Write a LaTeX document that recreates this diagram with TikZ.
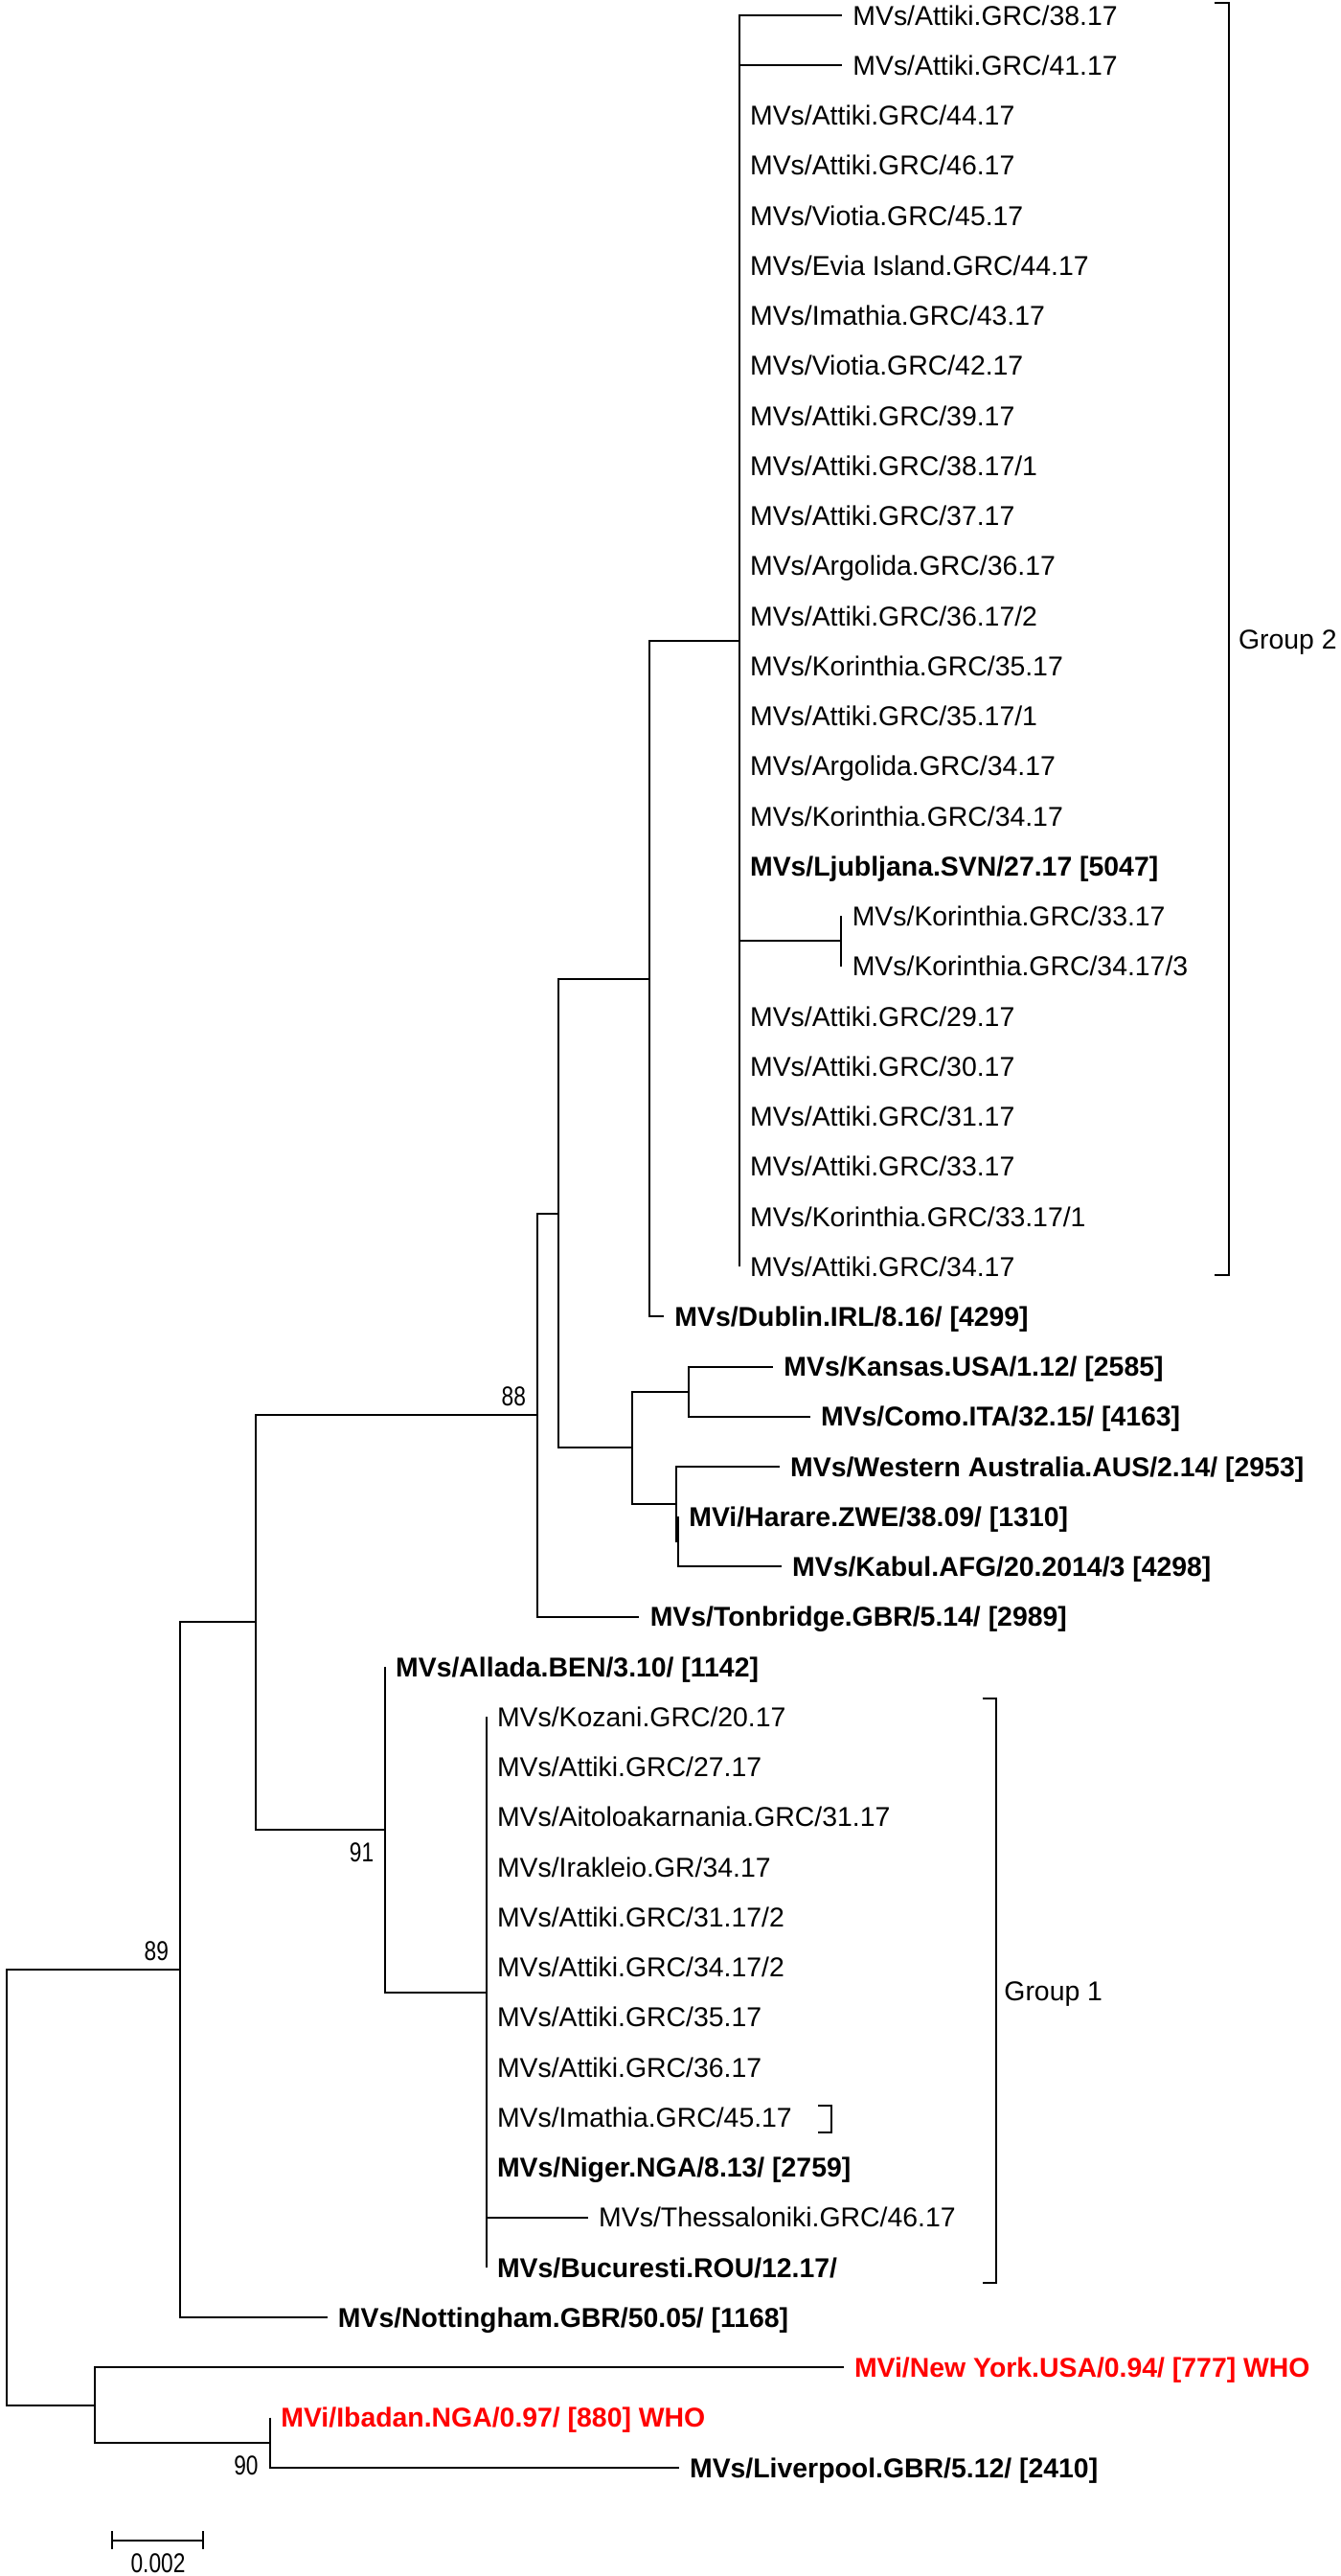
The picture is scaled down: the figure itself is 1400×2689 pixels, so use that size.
\documentclass[tikz,border=0pt]{standalone}
\usepackage{fontspec}
\setmainfont{Liberation Sans}
\usepackage{graphicx}
\usepackage{tikz}
\usetikzlibrary{positioning}
\definecolor{whored}{RGB}{255,0,0}
\newcommand{\treefont}{\fontsize{14.2pt}{17pt}\selectfont}
\newcommand{\narrow}[1]{\scalebox{0.8}[1]{#1}}
\tikzset{
    branch/.style={line width=1pt},
    taxon/.style={anchor=west, inner xsep=5.5pt, inner ysep=0pt, text height=10.2pt, text depth=0pt, font=\treefont},
    strain/.style={taxon, font=\treefont\bfseries},
    refstrain/.style={strain, text=whored},
    boot/.style={inner sep=0pt, text height=10.2pt, text depth=0pt, font=\treefont},
    grouplabel/.style={anchor=west, inner sep=0pt, text height=10.2pt, text depth=0pt, font=\treefont}
}
\begin{document}
\begin{tikzpicture}[x=0.5pt, y=-0.5pt]
    \useasboundingbox[fill=white] (0,0) rectangle (1400,2689);

    % taxa (west anchor = tip of the branch)
    \node[taxon] (t1) at (879,16.0) {MVs/Attiki.GRC/38.17};
    \node[taxon] (t2) at (879,68.2) {MVs/Attiki.GRC/41.17};
    \node[taxon] (t3) at (771.7,120.5) {MVs/Attiki.GRC/44.17};
    \node[taxon] (t4) at (771.7,172.7) {MVs/Attiki.GRC/46.17};
    \node[taxon] (t5) at (771.7,225.0) {MVs/Viotia.GRC/45.17};
    \node[taxon] (t6) at (771.7,277.2) {MVs/Evia Island.GRC/44.17};
    \node[taxon] (t7) at (771.7,329.4) {MVs/Imathia.GRC/43.17};
    \node[taxon] (t8) at (771.7,381.7) {MVs/Viotia.GRC/42.17};
    \node[taxon] (t9) at (771.7,433.9) {MVs/Attiki.GRC/39.17};
    \node[taxon] (t10) at (771.7,486.2) {MVs/Attiki.GRC/38.17/1};
    \node[taxon] (t11) at (771.7,538.4) {MVs/Attiki.GRC/37.17};
    \node[taxon] (t12) at (771.7,590.6) {MVs/Argolida.GRC/36.17};
    \node[taxon] (t13) at (771.7,642.9) {MVs/Attiki.GRC/36.17/2};
    \node[taxon] (t14) at (771.7,695.1) {MVs/Korinthia.GRC/35.17};
    \node[taxon] (t15) at (771.7,747.4) {MVs/Attiki.GRC/35.17/1};
    \node[taxon] (t16) at (771.7,799.6) {MVs/Argolida.GRC/34.17};
    \node[taxon] (t17) at (771.7,851.8) {MVs/Korinthia.GRC/34.17};
    \node[strain] (t18) at (771.7,904.1) {MVs/Ljubljana.SVN/27.17 [5047]};
    \node[taxon] (t19) at (878.4,956.3) {MVs/Korinthia.GRC/33.17};
    \node[taxon] (t20) at (878.4,1008.6) {MVs/Korinthia.GRC/34.17/3};
    \node[taxon] (t21) at (771.7,1060.8) {MVs/Attiki.GRC/29.17};
    \node[taxon] (t22) at (771.7,1113.0) {MVs/Attiki.GRC/30.17};
    \node[taxon] (t23) at (771.7,1165.3) {MVs/Attiki.GRC/31.17};
    \node[taxon] (t24) at (771.7,1217.5) {MVs/Attiki.GRC/33.17};
    \node[taxon] (t25) at (771.7,1269.8) {MVs/Korinthia.GRC/33.17/1};
    \node[taxon] (t26) at (771.7,1322.0) {MVs/Attiki.GRC/34.17};
    \node[strain] (t27) at (693,1374.2) {MVs/Dublin.IRL/8.16/ [4299]};
    \node[strain] (t28) at (807,1426.5) {MVs/Kansas.USA/1.12/ [2585]};
    \node[strain] (t29) at (845.7,1478.7) {MVs/Como.ITA/32.15/ [4163]};
    \node[strain] (t30) at (813.8,1531.0) {MVs/Western Australia.AUS/2.14/ [2953]};
    \node[strain] (t31) at (708,1583.2) {MVi/Harare.ZWE/38.09/ [1310]};
    \node[strain] (t32) at (815.8,1635.4) {MVs/Kabul.AFG/20.2014/3 [4298]};
    \node[strain] (t33) at (667.4,1687.7) {MVs/Tonbridge.GBR/5.14/ [2989]};
    \node[strain] (t34) at (401.8,1739.9) {MVs/Allada.BEN/3.10/ [1142]};
    \node[taxon] (t35) at (507.6,1792.2) {MVs/Kozani.GRC/20.17};
    \node[taxon] (t36) at (507.6,1844.4) {MVs/Attiki.GRC/27.17};
    \node[taxon] (t37) at (507.6,1896.6) {MVs/Aitoloakarnania.GRC/31.17};
    \node[taxon] (t38) at (507.6,1948.9) {MVs/Irakleio.GR/34.17};
    \node[taxon] (t39) at (507.6,2001.1) {MVs/Attiki.GRC/31.17/2};
    \node[taxon] (t40) at (507.6,2053.4) {MVs/Attiki.GRC/34.17/2};
    \node[taxon] (t41) at (507.6,2105.6) {MVs/Attiki.GRC/35.17};
    \node[taxon] (t42) at (507.6,2157.8) {MVs/Attiki.GRC/36.17};
    \node[taxon] (t43) at (507.6,2210.1) {MVs/Imathia.GRC/45.17};
    \node[strain] (t44) at (507.6,2262.3) {MVs/Niger.NGA/8.13/ [2759]};
    \node[taxon] (t45) at (613.8,2314.6) {MVs/Thessaloniki.GRC/46.17};
    \node[strain] (t46) at (507.6,2366.8) {MVs/Bucuresti.ROU/12.17/};
    \node[strain] (t47) at (341.5,2419.0) {MVs/Nottingham.GBR/50.05/ [1168]};
    \node[refstrain] (t48) at (880.6,2471.3) {MVi/New York.USA/0.94/ [777] WHO};
    \node[refstrain] (t49) at (282,2523.5) {MVi/Ibadan.NGA/0.97/ [880] WHO};
    \node[strain] (t50) at (708.7,2575.8) {MVs/Liverpool.GBR/5.12/ [2410]};

    % internal nodes
    \coordinate (g2) at (771.7,669.0);
    \coordinate (kor) at (878.4,982.45);
    \coordinate (cl) at (678,1021.6);
    \coordinate (ea) at (719.2,1452.6);
    \coordinate (hz) at (708,1609.3);
    \coordinate (fw) at (706,1570.2);
    \coordinate (dn) at (660.4,1511.4);
    \coordinate (bn) at (582.5,1266.5);
    \coordinate (n88) at (560.5,1477.1);
    \coordinate (g1) at (507.6,2079.5);
    \coordinate (n91) at (401.8,1909.7);
    \coordinate (pn) at (266.5,1693.4);
    \coordinate (n89) at (187.5,2056.2);
    \coordinate (n90) at (282,2549.7);
    \coordinate (qn) at (98.5,2510.5);
    \coordinate (root) at (6.7,2283.4);

    % branches
    \draw[branch] (t1.west) -| (g2) |- (t26.west);
    \draw[branch] (g2 |- t2.west) -- (t2.west);
    \draw[branch] (t19.west) -- (t20.west);
    \draw[branch] (g2 |- kor) -- (kor);
    \draw[branch] (g2) -| (cl) |- (t27.west);
    \draw[branch] (t28.west) -| (ea) |- (t29.west);
    \draw[branch] (t31.west) -| (hz) |- (t32.west);
    \draw[branch] (t30.west) -| (fw) |- (hz);
    \draw[branch] (ea) -| (dn) |- (fw);
    \draw[branch] (cl) -| (bn) |- (dn);
    \draw[branch] (bn) -| (n88) |- (t33.west);
    \draw[branch] (t35.west) -| (g1) |- (t46.west);
    \draw[branch] (g1 |- t45.west) -- (t45.west);
    \draw[branch] (t34.west) -| (n91) |- (g1);
    \draw[branch] (n88) -| (pn) |- (n91);
    \draw[branch] (pn) -| (n89) |- (t47.west);
    \draw[branch] (t49.west) -| (n90) |- (t50.west);
    \draw[branch] (t48.west) -| (qn) |- (n90);
    \draw[branch] (n89) -| (root) |- (qn);

    % bootstrap values
    \node[boot, above left=4.8pt and 5.6pt of n88] (b88) {\narrow{88}};
    \node[boot, above left=4.6pt and 5.6pt of n89] (b89) {\narrow{89}};
    \node[boot, below left=6.5pt and 5.6pt of n91] (b91) {\narrow{91}};
    \node[boot, below left=6.6pt and 6pt of n90] (b90) {\narrow{90}};

    % groups
    \coordinate (br2t) at (1282.7,2.5);
    \coordinate (br2b) at (1282.7,1331);
    \draw[branch] ([xshift=-7.5pt]br2t) -- (br2t) -- (br2b) -- ([xshift=-7.5pt]br2b);
    \node[grouplabel] (grp2) at (1292.7,667) {Group 2};
    \coordinate (br1t) at (1039.5,1773);
    \coordinate (br1b) at (1039.5,2383);
    \draw[branch] ([xshift=-7pt]br1t) -- (br1t) -- (br1b) -- ([xshift=-7pt]br1b);
    \node[grouplabel] (grp1) at (1048,2078) {Group 1};
    \coordinate (brit) at (868,2198);
    \coordinate (brib) at (868,2226);
    \draw[branch] ([xshift=-7pt]brit) -- (brit) -- (brib) -- ([xshift=-7pt]brib);

    % scale bar
    \coordinate (sb1) at (116.7,2651.7);
    \coordinate (sb2) at (212,2651.7);
    \draw[branch] (sb1) -- (sb2);
    \draw[branch] ([yshift=4.75pt]sb1) -- ([yshift=-4.75pt]sb1);
    \draw[branch] ([yshift=4.75pt]sb2) -- ([yshift=-4.75pt]sb2);
    \node[boot] (sblabel) at (165,2675) {\narrow{0.002}};
\end{tikzpicture}
\end{document}
